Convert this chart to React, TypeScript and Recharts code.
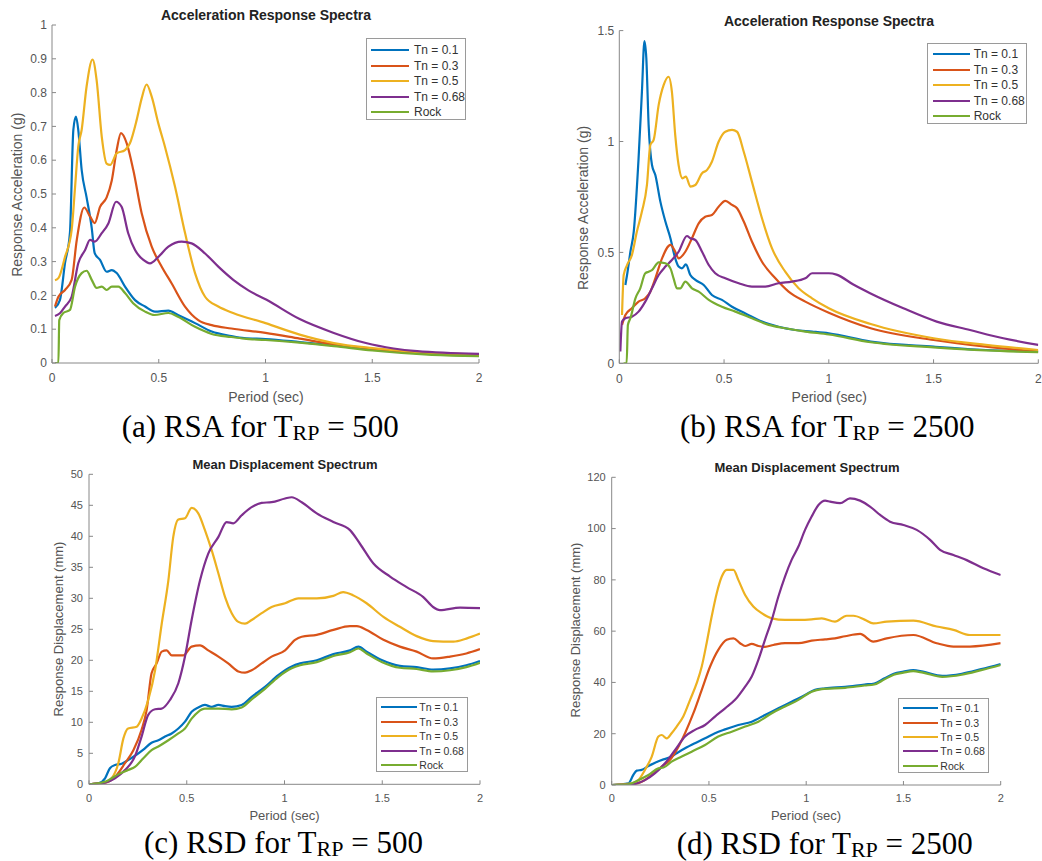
import { LineChart, Line, XAxis, YAxis, Legend } from 'recharts';

type Pt = [number, number];

// (a) RSA, T_RP = 500  — [period (s), Sa (g)]
const rsa500Tn01: Pt[] = [[0.014,0.163],[0.037,0.186],[0.061,0.296],[0.084,0.385],[0.1,0.69],[0.112,0.729],[0.123,0.69],[0.139,0.571],[0.162,0.49],[0.186,0.4],[0.2,0.325],[0.225,0.305],[0.256,0.27],[0.28,0.275],[0.303,0.266],[0.342,0.226],[0.389,0.186],[0.436,0.167],[0.482,0.152],[0.545,0.155],[0.59,0.142],[0.67,0.118],[0.748,0.093],[0.84,0.08],[0.9,0.074],[1,0.071],[1.16,0.062],[1.32,0.052],[1.5,0.04],[1.78,0.026],[2,0.022]];
const rsa500Tn03: Pt[] = [[0.014,0.167],[0.03,0.196],[0.061,0.216],[0.092,0.246],[0.116,0.364],[0.151,0.46],[0.178,0.434],[0.2,0.414],[0.225,0.462],[0.256,0.49],[0.28,0.54],[0.303,0.63],[0.323,0.68],[0.35,0.65],[0.381,0.57],[0.42,0.443],[0.467,0.344],[0.514,0.285],[0.56,0.236],[0.623,0.167],[0.685,0.127],[0.748,0.112],[0.84,0.102],[1,0.089],[1.16,0.072],[1.32,0.055],[1.5,0.042],[1.78,0.028],[2,0.022]];
const rsa500Tn05: Pt[] = [[0.014,0.245],[0.03,0.251],[0.061,0.314],[0.092,0.393],[0.108,0.52],[0.123,0.64],[0.139,0.69],[0.162,0.818],[0.19,0.898],[0.209,0.837],[0.233,0.67],[0.256,0.59],[0.272,0.586],[0.303,0.62],[0.342,0.63],[0.365,0.65],[0.397,0.72],[0.42,0.783],[0.443,0.824],[0.467,0.788],[0.498,0.709],[0.529,0.64],[0.576,0.522],[0.623,0.385],[0.67,0.266],[0.717,0.196],[0.779,0.167],[0.848,0.148],[1,0.118],[1.16,0.084],[1.32,0.059],[1.5,0.044],[1.78,0.03],[2,0.025]];
const rsa500Tn068: Pt[] = [[0.014,0.139],[0.037,0.147],[0.061,0.167],[0.092,0.196],[0.123,0.295],[0.155,0.334],[0.178,0.364],[0.2,0.359],[0.233,0.384],[0.264,0.413],[0.3,0.477],[0.326,0.462],[0.357,0.384],[0.389,0.334],[0.428,0.305],[0.459,0.295],[0.498,0.314],[0.545,0.344],[0.607,0.359],[0.654,0.354],[0.717,0.324],[0.779,0.285],[0.849,0.246],[0.92,0.215],[1.005,0.187],[1.16,0.13],[1.32,0.089],[1.47,0.059],[1.6,0.043],[1.71,0.035],[2,0.027]];
const rsa500Rock: Pt[] = [[0.014,0],[0.03,0],[0.034,0.127],[0.053,0.148],[0.084,0.157],[0.108,0.226],[0.139,0.266],[0.162,0.273],[0.186,0.246],[0.209,0.222],[0.233,0.226],[0.256,0.216],[0.28,0.226],[0.311,0.226],[0.342,0.207],[0.38,0.177],[0.436,0.152],[0.48,0.142],[0.545,0.148],[0.59,0.137],[0.67,0.107],[0.748,0.086],[0.84,0.077],[0.9,0.072],[1,0.068],[1.16,0.06],[1.32,0.05],[1.5,0.037],[1.78,0.024],[2,0.02]];

// (b) RSA, T_RP = 2500
const rsa2500Tn01: Pt[] = [[0.029,0.353],[0.037,0.398],[0.053,0.503],[0.069,0.594],[0.092,0.924],[0.108,1.225],[0.12,1.453],[0.129,1.375],[0.14,1.075],[0.156,0.894],[0.172,0.849],[0.196,0.729],[0.22,0.639],[0.244,0.564],[0.267,0.473],[0.283,0.436],[0.299,0.428],[0.318,0.446],[0.339,0.398],[0.363,0.376],[0.403,0.353],[0.442,0.308],[0.49,0.286],[0.538,0.255],[0.602,0.225],[0.681,0.188],[0.76,0.165],[0.84,0.15],[0.92,0.143],[1,0.135],[1.2,0.098],[1.5,0.075],[1.75,0.06],[2,0.053]];
const rsa2500Tn03: Pt[] = [[0.013,0.173],[0.029,0.218],[0.06,0.248],[0.092,0.278],[0.124,0.293],[0.148,0.323],[0.172,0.383],[0.204,0.473],[0.244,0.534],[0.267,0.503],[0.283,0.473],[0.315,0.503],[0.347,0.564],[0.379,0.631],[0.41,0.661],[0.442,0.669],[0.474,0.706],[0.506,0.732],[0.538,0.714],[0.562,0.699],[0.594,0.639],[0.633,0.549],[0.681,0.458],[0.745,0.383],[0.808,0.323],[0.888,0.278],[1,0.228],[1.2,0.158],[1.5,0.105],[1.75,0.075],[2,0.053]];
const rsa2500Tn05: Pt[] = [[0.013,0.218],[0.021,0.398],[0.037,0.443],[0.06,0.488],[0.084,0.594],[0.108,0.684],[0.132,0.804],[0.148,0.984],[0.164,1.007],[0.188,1.165],[0.212,1.255],[0.235,1.292],[0.251,1.225],[0.267,1.029],[0.283,0.894],[0.302,0.834],[0.318,0.842],[0.339,0.797],[0.363,0.804],[0.395,0.857],[0.419,0.872],[0.442,0.909],[0.474,0.999],[0.506,1.044],[0.538,1.052],[0.562,1.044],[0.594,0.954],[0.633,0.819],[0.681,0.654],[0.729,0.518],[0.792,0.413],[0.856,0.338],[0.92,0.293],[1,0.248],[1.2,0.177],[1.5,0.113],[1.75,0.083],[2,0.06]];
const rsa2500Tn068: Pt[] = [[0.005,0.053],[0.013,0.188],[0.029,0.203],[0.06,0.21],[0.092,0.233],[0.124,0.278],[0.156,0.338],[0.188,0.398],[0.22,0.436],[0.251,0.466],[0.283,0.503],[0.323,0.574],[0.339,0.564],[0.363,0.556],[0.395,0.503],[0.427,0.443],[0.458,0.406],[0.506,0.383],[0.57,0.361],[0.633,0.346],[0.697,0.346],[0.76,0.361],[0.824,0.368],[0.888,0.383],[0.92,0.406],[0.958,0.406],[1,0.406],[1.037,0.4],[1.117,0.355],[1.197,0.316],[1.356,0.248],[1.515,0.188],[1.674,0.15],[1.833,0.113],[2,0.083]];
const rsa2500Rock: Pt[] = [[0.02,0],[0.035,0],[0.041,0.173],[0.053,0.203],[0.077,0.293],[0.1,0.338],[0.124,0.406],[0.14,0.413],[0.156,0.42],[0.188,0.455],[0.22,0.451],[0.244,0.428],[0.259,0.383],[0.275,0.338],[0.291,0.338],[0.315,0.368],[0.347,0.338],[0.379,0.323],[0.427,0.286],[0.49,0.255],[0.554,0.233],[0.633,0.203],[0.713,0.173],[0.792,0.158],[0.888,0.143],[1,0.13],[1.2,0.095],[1.5,0.072],[1.75,0.058],[2,0.05]];

// (c) RSD, T_RP = 500 — [period (s), Sd (mm)]
const rsd500Tn01: Pt[] = [[0,0],[0.048,0.16],[0.082,0.97],[0.107,2.6],[0.133,3.1],[0.167,3.3],[0.2,3.9],[0.235,4.6],[0.278,5.6],[0.32,6.7],[0.355,7.1],[0.389,7.7],[0.423,8.2],[0.457,9],[0.491,10.1],[0.525,11.7],[0.559,12.4],[0.593,12.8],[0.627,12.5],[0.662,12.8],[0.696,12.6],[0.73,12.5],[0.781,12.8],[0.832,14.1],[0.9,15.7],[0.968,17.6],[1.037,19],[1.08,19.5],[1.165,20],[1.25,21],[1.335,21.6],[1.378,22.2],[1.42,21.4],[1.5,20],[1.59,19.1],[1.676,18.9],[1.76,18.5],[1.847,18.7],[1.93,19.2],[2,19.9]];
const rsd500Tn03: Pt[] = [[0,0],[0.082,0.27],[0.133,1.2],[0.184,3.4],[0.227,5.5],[0.269,8.8],[0.295,12],[0.32,17.9],[0.346,19.5],[0.372,21.4],[0.397,21.6],[0.423,20.8],[0.448,20.8],[0.483,20.8],[0.525,22.2],[0.568,22.4],[0.61,21.6],[0.662,20.6],[0.712,19.5],[0.764,18.2],[0.798,18],[0.832,18.4],[0.883,19.5],[0.934,20.6],[1.003,21.6],[1.054,23.3],[1.088,23.8],[1.165,24.1],[1.25,24.9],[1.335,25.5],[1.37,25.5],[1.42,24.9],[1.506,23.3],[1.59,22.2],[1.676,21.4],[1.76,20.3],[1.847,20.6],[1.93,21.1],[2,21.8]];
const rsd500Tn05: Pt[] = [[0,0],[0.082,0.27],[0.116,0.97],[0.15,3.4],[0.176,7.4],[0.2,9],[0.244,9.3],[0.269,10.6],[0.303,13.6],[0.338,18.4],[0.372,25.9],[0.406,32.9],[0.431,39.9],[0.457,42.7],[0.491,42.9],[0.525,44.6],[0.559,43.7],[0.593,41],[0.627,37.8],[0.662,34],[0.696,30.2],[0.73,27.6],[0.764,26.2],[0.798,25.9],[0.832,26.5],[0.883,27.6],[0.934,28.6],[1.003,29.2],[1.071,30],[1.165,30],[1.25,30.4],[1.3,31],[1.35,30.5],[1.42,29.2],[1.506,27],[1.59,25.4],[1.676,23.9],[1.76,23.1],[1.864,23],[1.93,23.5],[2,24.3]];
const rsd500Tn068: Pt[] = [[0,0],[0.082,0.27],[0.133,0.97],[0.184,2.3],[0.235,4.5],[0.269,7.7],[0.303,11.2],[0.338,12.1],[0.372,12.2],[0.414,13.6],[0.457,16.3],[0.491,20.6],[0.525,26.5],[0.568,32.9],[0.61,37.2],[0.662,39.9],[0.704,42.3],[0.738,42.1],[0.781,43.4],[0.832,44.7],[0.883,45.4],[0.934,45.5],[1.003,46.1],[1.037,46.3],[1.088,45.5],[1.165,43.7],[1.25,42.3],[1.335,41],[1.386,38.8],[1.455,35.6],[1.54,33.5],[1.625,31.8],[1.71,30.2],[1.76,28.6],[1.795,28.1],[1.898,28.5],[2,28.4]];
const rsd500Rock: Pt[] = [[0,0],[0.082,0.4],[0.116,0.97],[0.15,1.6],[0.2,2.3],[0.235,2.8],[0.278,4.2],[0.32,5.5],[0.355,6.1],[0.406,7.1],[0.457,8.2],[0.491,9],[0.525,10.6],[0.559,11.7],[0.593,12.2],[0.662,12.2],[0.73,12.1],[0.781,12.4],[0.832,13.7],[0.9,15.4],[0.968,17.3],[1.037,18.7],[1.08,19.2],[1.165,19.7],[1.25,20.7],[1.335,21.3],[1.378,21.9],[1.42,21.1],[1.5,19.7],[1.59,18.8],[1.676,18.6],[1.76,18.2],[1.847,18.4],[1.93,18.9],[2,19.6]];

// (d) RSD, T_RP = 2500
const rsd2500Tn01: Pt[] = [[0,0],[0.086,0.65],[0.111,3.9],[0.129,5.6],[0.154,5.9],[0.189,7.4],[0.223,8.7],[0.266,10],[0.3,10.8],[0.334,12.4],[0.377,14.3],[0.428,16.3],[0.48,18.2],[0.531,20.2],[0.583,21.7],[0.651,23.4],[0.72,24.7],[0.788,27.3],[0.857,29.9],[0.925,32.5],[0.994,35.1],[1.045,37.1],[1.097,37.7],[1.2,38.3],[1.3,39.2],[1.35,39.6],[1.4,41.5],[1.45,43.4],[1.5,44.2],[1.55,44.8],[1.6,44.2],[1.7,42.6],[1.8,43.4],[1.9,45.2],[2,47.2]];
const rsd2500Tn03: Pt[] = [[0,0],[0.103,0.26],[0.154,1.3],[0.206,3.9],[0.257,7.2],[0.3,9.8],[0.334,13.7],[0.377,20.2],[0.42,28],[0.463,37.1],[0.506,46.2],[0.548,52.7],[0.591,56.6],[0.626,57.2],[0.66,55.3],[0.686,54.2],[0.72,55],[0.754,54.2],[0.788,53.9],[0.831,54.6],[0.891,55.3],[0.96,55.3],[1.028,56.3],[1.097,56.8],[1.148,57.2],[1.2,58],[1.277,58.9],[1.345,55.9],[1.414,57.2],[1.551,58.5],[1.671,55.3],[1.757,54],[1.842,54],[2,55.3]];
const rsd2500Tn05: Pt[] = [[0,0],[0.103,0.65],[0.137,1.9],[0.171,5.9],[0.206,11.1],[0.24,18.9],[0.257,19.5],[0.283,18.2],[0.308,20.2],[0.334,22.8],[0.368,26.7],[0.403,33.2],[0.437,39.7],[0.463,46.2],[0.488,55.3],[0.514,65.7],[0.54,74.8],[0.566,81.3],[0.591,83.9],[0.626,83.9],[0.651,80],[0.686,74.1],[0.728,69.6],[0.771,67],[0.823,65],[0.891,64.4],[0.96,64.4],[1.028,64.6],[1.08,65],[1.148,63.7],[1.208,66],[1.243,66],[1.3,64.5],[1.345,63],[1.414,63.7],[1.551,64.1],[1.671,61.8],[1.757,60.5],[1.842,58.5],[2,58.5]];
const rsd2500Tn068: Pt[] = [[0,0],[0.103,0.26],[0.171,1.9],[0.223,4.6],[0.274,8.5],[0.326,13.7],[0.377,18.9],[0.428,21.5],[0.48,23.4],[0.531,26.7],[0.583,29.9],[0.634,33.2],[0.686,38.4],[0.72,42.3],[0.754,48.8],[0.788,56.6],[0.823,64.4],[0.857,73.5],[0.891,81.3],[0.925,87.8],[0.96,93],[0.994,99.5],[1.028,104.7],[1.063,109.2],[1.097,110.9],[1.123,110.5],[1.174,109.9],[1.225,111.8],[1.277,110.9],[1.328,108.6],[1.38,105.3],[1.431,102.7],[1.5,101.4],[1.568,99.5],[1.637,95.6],[1.688,91.7],[1.757,89.7],[1.825,87.7],[1.911,84.5],[2,81.9]];
const rsd2500Rock: Pt[] = [[0,0],[0.086,0.26],[0.137,1.9],[0.189,3.9],[0.24,6.5],[0.266,6.8],[0.308,9.1],[0.36,11.1],[0.411,13],[0.48,15.6],[0.548,18.9],[0.617,20.8],[0.686,22.8],[0.754,24.7],[0.823,28],[0.891,30.6],[0.96,33.2],[1.028,36.4],[1.08,37.4],[1.2,37.9],[1.3,38.8],[1.35,39.2],[1.4,41.1],[1.45,43],[1.5,43.8],[1.55,44.4],[1.6,43.8],[1.7,42.2],[1.8,43],[1.9,44.8],[2,46.8]];

const seriesNames = ['Tn = 0.1', 'Tn = 0.3', 'Tn = 0.5', 'Tn = 0.68', 'Rock'];
const seriesColors = ['#0072BD', '#D95319', '#EDB120', '#7E2F8E', '#77AC30'];

const periodTicks = [0, 0.5, 1, 1.5, 2];
const rsa500Ticks = [0, 0.1, 0.2, 0.3, 0.4, 0.5, 0.6, 0.7, 0.8, 0.9, 1];
const rsa2500Ticks = [0, 0.5, 1, 1.5];
const rsd500Ticks = [0, 5, 10, 15, 20, 25, 30, 35, 40, 45, 50];
const rsd2500Ticks = [0, 20, 40, 60, 80, 100, 120];

const AXIS = '#888';
const TXT = '#555';

type LegendSpec = { x: number; y: number; w: number; h: number; row0: number; gap: number; l0: number; l1: number; tx: number; fs: number };

function LegendBox({ s }: { s: LegendSpec }) {
  return (
    <div style={{ position: 'relative', width: s.w, height: s.h, border: '1px solid #9a9a9a', background: '#fff', boxSizing: 'border-box' }}>
      {seriesNames.map((n, i) => (
        <div key={n} style={{ position: 'absolute', left: 0, top: s.row0 + i * s.gap - 8, height: 16, width: s.w }}>
          <div style={{ position: 'absolute', left: s.l0, top: 7, width: s.l1 - s.l0, height: 2, background: seriesColors[i] }} />
          <div style={{ position: 'absolute', left: s.tx, top: 0, lineHeight: '16px', fontSize: s.fs, color: '#333', whiteSpace: 'nowrap' }}>{n}</div>
        </div>
      ))}
    </div>
  );
}

type PanelProps = {
  left: number; top: number; width: number; height: number;
  margin: { top: number; right: number; bottom: number; left: number };
  series: Pt[][];
  yMax: number; yTicks: number[];
  title: string; titleX: number; titleY: number;
  yLabel: string; yLabelX: number; yLabelY: number;
  xLabelX: number; xLabelY: number;
  tickFs: number; labelFs: number; titleFs: number;
  xTickMargin: number; yTickMargin: number;
  legend: LegendSpec;
};

// axes get 1px of size (a zero-size axis is not drawn), so the margins are 1px smaller
function Panel(p: PanelProps) {
  const m = { ...p.margin, left: p.margin.left - 1, bottom: p.margin.bottom - 1 };
  return (
    <div style={{ position: 'absolute', left: p.left, top: p.top, width: p.width, height: p.height }}>
      <LineChart width={p.width} height={p.height} margin={m}>
        <XAxis
          type="number" dataKey="x" domain={[0, 2]} ticks={periodTicks} allowDataOverflow
          height={1} stroke={AXIS} tickSize={-4} tickMargin={p.xTickMargin}
          tick={{ fontSize: p.tickFs, fill: TXT }}
          label={() => (
            <text x={p.xLabelX} y={p.xLabelY} textAnchor="middle" dominantBaseline="central" fontSize={p.labelFs} fill={TXT}>Period (sec)</text>
          )}
        />
        <YAxis
          type="number" domain={[0, p.yMax]} ticks={p.yTicks} allowDataOverflow
          width={1} stroke={AXIS} tickSize={-4} tickMargin={p.yTickMargin}
          tick={{ fontSize: p.tickFs, fill: TXT }}
          label={() => (
            <text x={p.yLabelX} y={p.yLabelY} transform={`rotate(-90 ${p.yLabelX} ${p.yLabelY})`} textAnchor="middle" dominantBaseline="central" fontSize={p.labelFs} fill={TXT}>{p.yLabel}</text>
          )}
        />
        {p.series.map((pts, i) => (
          <Line
            key={seriesNames[i]}
            name={seriesNames[i]}
            data={pts.map(([x, y]) => ({ x, y }))}
            dataKey="y"
            type="monotone"
            stroke={seriesColors[i]}
            strokeWidth={2.2}
            dot={false}
            activeDot={false}
            isAnimationActive={false}
          />
        ))}
        <Legend
          layout="vertical" align="center" verticalAlign="middle"
          wrapperStyle={{ left: p.legend.x, top: p.legend.y, width: p.legend.w, height: p.legend.h }}
          content={() => <LegendBox s={p.legend} />}
        />
      </LineChart>
      <div style={{ position: 'absolute', left: p.titleX, top: p.titleY, transform: 'translate(-50%, -50%)', fontSize: p.titleFs, fontWeight: 'bold', color: '#222', whiteSpace: 'nowrap' }}>
        {p.title}
      </div>
    </div>
  );
}

function Caption({ left, top, head, tail }: { left: number; top: number; head: string; tail: string }) {
  return (
    <div style={{ position: 'absolute', left, top, fontFamily: '"Liberation Serif", "Times New Roman", serif', fontSize: 31, lineHeight: '31px', color: '#000', whiteSpace: 'nowrap' }}>
      {head}T<span style={{ fontSize: 22, lineHeight: '16px', position: 'relative', top: 3 }}>RP</span>{tail}
    </div>
  );
}

export default function App() {
  return (
    <div style={{ position: 'absolute', left: 0, top: 0, width: 1042, height: 861, background: '#fff', overflow: 'hidden', fontFamily: '"Liberation Sans", Arial, sans-serif' }}>
      <Panel
        left={0} top={0} width={520} height={450}
        margin={{ top: 25, right: 41, bottom: 87, left: 52 }}
        series={[rsa500Tn01, rsa500Tn03, rsa500Tn05, rsa500Tn068, rsa500Rock]}
        yMax={1} yTicks={rsa500Ticks}
        title="Acceleration Response Spectra" titleX={266} titleY={15}
        yLabel="Response Acceleration (g)" yLabelX={16.7} yLabelY={194.7}
        xLabelX={266} xLabelY={397}
        tickFs={12} labelFs={14} titleFs={14} xTickMargin={14.8} yTickMargin={9}
        legend={{ x: 366, y: 38, w: 100, h: 82, row0: 11, gap: 15.5, l0: 4, l1: 42, tx: 47, fs: 12 }}
      />
      <Panel
        left={520} top={0} width={522} height={450}
        margin={{ top: 30.6, right: 3.7, bottom: 86.7, left: 99.3 }}
        series={[rsa2500Tn01, rsa2500Tn03, rsa2500Tn05, rsa2500Tn068, rsa2500Rock]}
        yMax={1.5} yTicks={rsa2500Ticks}
        title="Acceleration Response Spectra" titleX={309} titleY={21}
        yLabel="Response Acceleration (g)" yLabelX={63.3} yLabelY={208}
        xLabelX={309.3} xLabelY={396.7}
        tickFs={12} labelFs={14} titleFs={14} xTickMargin={14.8} yTickMargin={9}
        legend={{ x: 407, y: 43, w: 100, h: 81, row0: 10.3, gap: 15.4, l0: 4.7, l1: 42.3, tx: 45.7, fs: 12 }}
      />
      <Panel
        left={0} top={450} width={520} height={411}
        margin={{ top: 24.3, right: 40, bottom: 76.7, left: 89 }}
        series={[rsd500Tn01, rsd500Tn03, rsd500Tn05, rsd500Tn068, rsd500Rock]}
        yMax={50} yTicks={rsd500Ticks}
        title="Mean Displacement Spectrum" titleX={285} titleY={14}
        yLabel="Response Displacement (mm)" yLabelX={58.3} yLabelY={179}
        xLabelX={284.5} xLabelY={365.7}
        tickFs={11} labelFs={13} titleFs={13} xTickMargin={13.5} yTickMargin={10}
        legend={{ x: 376, y: 247, w: 92, h: 75, row0: 9, gap: 14.5, l0: 4, l1: 40, tx: 42.3, fs: 10.5 }}
      />
      <Panel
        left={520} top={450} width={522} height={411}
        margin={{ top: 27.3, right: 41.3, bottom: 76, left: 91.7 }}
        series={[rsd2500Tn01, rsd2500Tn03, rsd2500Tn05, rsd2500Tn068, rsd2500Rock]}
        yMax={120} yTicks={rsd2500Ticks}
        title="Mean Displacement Spectrum" titleX={287} titleY={17}
        yLabel="Response Displacement (mm)" yLabelX={55} yLabelY={180}
        xLabelX={286} xLabelY={365.7}
        tickFs={11} labelFs={13} titleFs={13} xTickMargin={13.5} yTickMargin={10}
        legend={{ x: 378, y: 248, w: 91, h: 75, row0: 9.3, gap: 14.3, l0: 3.7, l1: 38.7, tx: 41.3, fs: 10.5 }}
      />
      <Caption left={121.7} top={411} head="(a) RSA for " tail=" = 500" />
      <Caption left={680} top={411} head="(b) RSA for " tail=" = 2500" />
      <Caption left={144} top={827} head="(c) RSD for " tail=" = 500" />
      <Caption left={676.7} top={828} head="(d) RSD for " tail=" = 2500" />
    </div>
  );
}
